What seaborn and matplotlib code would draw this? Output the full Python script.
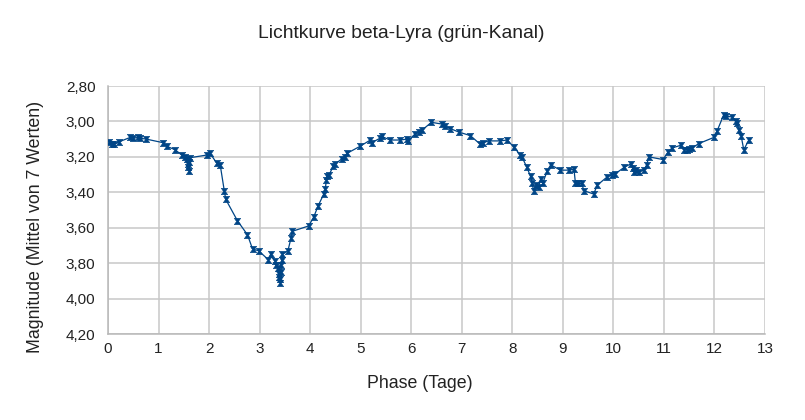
import matplotlib
matplotlib.use("Agg")
import matplotlib.pyplot as plt
import seaborn as sns
import pandas as pd
from matplotlib.path import Path
from matplotlib.ticker import FuncFormatter, MultipleLocator

phase = [0.01, 0.08, 0.12, 0.22, 0.44, 0.50, 0.60, 0.64, 0.76, 1.09, 1.16, 1.33, 1.46, 1.52,
         1.56, 1.58, 1.59, 1.60, 1.61, 1.62, 1.95, 2.02, 2.15, 2.22, 2.30, 2.33, 2.56, 2.76,
         2.86, 2.98, 3.17, 3.22, 3.31, 3.33, 3.37, 3.38, 3.39, 3.40, 3.41, 3.42, 3.43, 3.44,
         3.45, 3.56, 3.62, 3.65, 3.97, 4.07, 4.16, 4.27, 4.30, 4.32, 4.33, 4.37, 4.46, 4.50,
         4.63, 4.68, 4.73, 4.99, 5.19, 5.22, 5.38, 5.42, 5.58, 5.78, 5.91, 5.93, 6.08, 6.16,
         6.21, 6.40, 6.61, 6.66, 6.77, 6.94, 7.17, 7.37, 7.42, 7.53, 7.76, 7.90, 8.03, 8.16,
         8.19, 8.29, 8.36, 8.39, 8.42, 8.47, 8.52, 8.56, 8.60, 8.69, 8.76, 8.95, 9.12, 9.22,
         9.25, 9.30, 9.38, 9.41, 9.61, 9.68, 9.87, 9.98, 10.04, 10.21, 10.34, 10.38, 10.40,
         10.44, 10.50, 10.60, 10.66, 10.70, 10.98, 11.09, 11.16, 11.33, 11.40, 11.46, 11.50,
         11.56, 11.69, 11.99, 12.05, 12.18, 12.22, 12.35, 12.42, 12.45, 12.48, 12.53, 12.58,
         12.68]
magnitude = [3.115, 3.125, 3.13, 3.115, 3.09, 3.095, 3.09, 3.095, 3.10, 3.12, 3.14, 3.16, 3.19, 3.20,
             3.21, 3.24, 3.26, 3.28, 3.23, 3.205, 3.19, 3.18, 3.235, 3.245, 3.39, 3.44, 3.56, 3.64,
             3.72, 3.73, 3.78, 3.75, 3.79, 3.81, 3.83, 3.86, 3.88, 3.91, 3.89, 3.85, 3.81, 3.78,
             3.75, 3.73, 3.66, 3.62, 3.59, 3.54, 3.475, 3.41, 3.38, 3.33, 3.31, 3.305, 3.25, 3.24,
             3.21, 3.20, 3.18, 3.14, 3.105, 3.12, 3.095, 3.085, 3.105, 3.105, 3.10, 3.11, 3.07, 3.06,
             3.05, 3.005, 3.015, 3.025, 3.04, 3.06, 3.08, 3.13, 3.12, 3.11, 3.11, 3.105, 3.145, 3.19,
             3.20, 3.26, 3.31, 3.345, 3.39, 3.36, 3.37, 3.325, 3.35, 3.28, 3.245, 3.275, 3.275, 3.27,
             3.35, 3.35, 3.35, 3.39, 3.41, 3.36, 3.315, 3.30, 3.295, 3.26, 3.24, 3.265, 3.285,
             3.275, 3.285, 3.275, 3.245, 3.20, 3.215, 3.17, 3.15, 3.135, 3.16, 3.16, 3.155,
             3.15, 3.125, 3.09, 3.055, 2.965, 2.97, 2.975, 2.995, 3.01, 3.05, 3.085, 3.16,
             3.105]

y_ticks = [2.8, 3.0, 3.2, 3.4, 3.6, 3.8, 4.0, 4.2]
title = "Lichtkurve beta-Lyra (grün-Kanal)"
x_label = "Phase (Tage)"
y_label = "Magnitude (Mittel von 7 Werten)"

df = pd.DataFrame({"phase": phase, "mag": magnitude})

sns.set_style("white")
plt.rcParams["font.family"] = ["Liberation Sans", "DejaVu Sans"]

fig = plt.figure(figsize=(8.05, 4.2), dpi=100)
ax = fig.add_axes([108 / 805, 1 - 334 / 420, (765 - 108) / 805, (334 - 86) / 420])

hourglass = Path([(-1, 1), (1, 1), (0.3, 0), (1, -1), (-1, -1), (-0.3, 0), (-1, 1)],
                 [Path.MOVETO, Path.LINETO, Path.LINETO, Path.LINETO, Path.LINETO,
                  Path.LINETO, Path.CLOSEPOLY])

color = "#004586"
sns.lineplot(data=df, x="phase", y="mag", sort=False, estimator=None, ax=ax,
             color=color, linewidth=0.9, marker=hourglass, markersize=4.6,
             markeredgewidth=0.4, markeredgecolor=color, markerfacecolor=color, zorder=3)

ax.set_xlim(0, 13)
ax.set_ylim(4.2, 2.8)
ax.xaxis.set_major_locator(MultipleLocator(1))
ax.set_yticks(y_ticks)
ax.yaxis.set_major_formatter(FuncFormatter(lambda v, p: f"{v:.2f}".replace(".", ",")))
ax.grid(True, color="#c8c8c8", linewidth=1.1)
ax.set_axisbelow(True)
for s in ["top", "right"]:
    ax.spines[s].set_visible(False)
for s in ["left", "bottom"]:
    ax.spines[s].set_color("#b8b8b8")
    ax.spines[s].set_linewidth(1.1)
ax.tick_params(axis="y", length=6, color="#b8b8b8", width=1.1, labelsize=11,
               pad=3, labelcolor="#222222")
ax.tick_params(axis="x", length=0, labelsize=11, pad=6, labelcolor="#222222")

ax.set_xlabel("")
ax.set_ylabel("")
fig.text(420 / 805, 1 - 383 / 420, x_label, ha="center", va="center", fontsize=12.8, color="#222222")
fig.text(35 / 805, 1 - 227 / 420, y_label, ha="center", va="center", rotation=90,
         fontsize=12.8, color="#222222")
fig.text(401 / 805, 1 - 33 / 420, title, ha="center", va="center", fontsize=13.9, color="#222222")

fig.savefig("out.png", dpi=100)
